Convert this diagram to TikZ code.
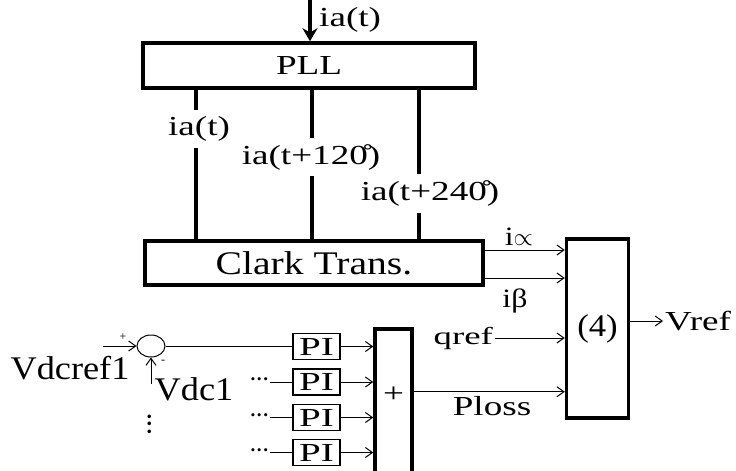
\documentclass[tikz,border=0pt]{standalone}
\usepackage{fontspec}
\setmainfont{Liberation Serif}
\newfontfamily\serifA{Liberation Serif}[FakeStretch=1.1]
\newfontfamily\serifM{Liberation Serif}[FakeStretch=1.2]
\newfontfamily\serifB{Liberation Serif}[FakeStretch=1.35]
\newfontfamily\serifC{Liberation Serif}[FakeStretch=1.5]
\usetikzlibrary{positioning,arrows.meta,shapes.geometric}
\tikzset{
  heavy box/.style={draw=black, line width=3.5pt, inner sep=0pt},
  pi box/.style={draw=black, line width=1.8pt, inner sep=0pt, minimum width=47pt, minimum height=26pt, font=\serifC\fontsize{26}{28}\selectfont},
  sum ring/.style={draw=black, ellipse, line width=1pt, inner sep=0pt, minimum width=28pt, minimum height=22pt},
  phase line/.style={line width=4pt},
  thin line/.style={line width=1pt},
  sig arrow/.style={-{Straight Barb[length=7pt,width=10pt]}, line width=1pt},
  feed arrow/.style={-{Stealth[length=13pt,width=15pt]}, line width=3.5pt},
  big font/.style={font=\serifA\fontsize{33}{35}\selectfont},
  wide font/.style={font=\serifB\fontsize{27.5}{30}\selectfont},
  lbl/.style={wide font, inner sep=2pt},
  phase lbl/.style={wide font, inner sep=6pt},
  small lbl/.style={font=\serifM\fontsize{26.5}{28}\selectfont, inner sep=0pt},
  sign lbl/.style={font=\fontsize{12}{13}\selectfont, inner sep=0pt},
  dots lbl/.style={font=\bfseries\fontsize{19}{21}\selectfont, inner sep=1pt}
}
\begin{document}
\begin{tikzpicture}[x=1pt, y=-1pt]
\useasboundingbox (0,0) rectangle (736,471);
% top blocks
\node[heavy box, wide font, minimum width=332pt, minimum height=45pt] (pll) at (309,65.5) {PLL};
\node[heavy box, font=\serifM\fontsize{33}{35}\selectfont, minimum width=338pt, minimum height=44pt] (clark) at (314,263) {Clark Trans.};
\node[lbl, anchor=west] (iatop) at (317,20) {ia(t)};
\coordinate (fin) at (310,0);
\draw[feed arrow] (fin) -- (fin |- pll.north);
% three phases
\node[phase lbl] (ph1) at (199,129) {ia(t)};
\node[phase lbl] (ph2) at (311,157) {ia(t+12\r{0})};
\node[phase lbl] (ph3) at (430,193.5) {ia(t+24\r{0})};
\coordinate (c1) at ([xshift=-113pt]pll.south);
\coordinate (c2) at ([xshift=3pt]pll.south);
\coordinate (c3) at ([xshift=110pt]pll.south);
\draw[phase line] (c1) -- (c1 |- ph1.north) (c1 |- ph1.south) -- (c1 |- clark.north);
\draw[phase line] (c2) -- (c2 |- ph2.north) (c2 |- ph2.south) -- (c2 |- clark.north);
\draw[phase line] (c3) -- (c3 |- ph3.north) (c3 |- ph3.south) -- (c3 |- clark.north);
% equation block
\node[heavy box, font=\serifA\fontsize{31.5}{33}\selectfont, minimum width=62pt, minimum height=179pt] (eq4) at (597.5,328.5) {(4)};
\coordinate (ial) at ([yshift=13pt]clark.east);
\coordinate (ibe) at ([yshift=-15pt]clark.east);
\draw[sig arrow] (ial) -- (ial -| eq4.west);
\draw[sig arrow] (ibe) -- (ibe -| eq4.west);
\node[small lbl] (lal) at (519,237) {i$\propto$};
\node[small lbl] (lbe) at (515,301) {iβ};
\node[lbl, anchor=west] (vout) at (663,321) {Vref};
\draw[sig arrow] (eq4.east |- vout) -- (vout.west);
\node[lbl, font=\serifC\fontsize{24.5}{27}\selectfont, anchor=east] (qref) at (495,338) {qref};
\draw[sig arrow] (qref.east) -- (qref.east -| eq4.west);
% dc voltage loops
\node[heavy box, wide font, minimum width=37pt, minimum height=150pt, anchor=north, text height=10pt, text depth=12pt] (sum) at (393.5,327) {+};
\coordinate (pl) at ([yshift=12pt]sum.east);
\draw[sig arrow] (pl) -- (pl -| eq4.west);
\node[lbl] (ploss) at (492,406) {Ploss};
\node[pi box] (pi1) at (316.5,346.5) {PI};
\node[pi box] (pi2) at (316.5,382) {PI};
\node[pi box] (pi3) at (316.5,417.5) {PI};
\node[pi box] (pi4) at (316.5,452.5) {PI};
\foreach \k in {1,...,4}
  \draw[sig arrow] (pi\k.east) -- (pi\k.east -| sum.west);
\foreach \k in {2,3,4}{
  \node[dots lbl, anchor=east] (d\k) at ([xshift=-22pt]pi\k.west) {···};
  \draw[thin line] (d\k.east) -- (pi\k.west);
}
\node[sum ring] (cmp) at (151,346) {};
\draw[thin line] (cmp.east) -- (cmp.east -| pi1.west);
\coordinate (vin1) at (103,346);
\draw[sig arrow] (vin1) -- (cmp.west);
\node[sign lbl] (plus) at (123,337) {+};
\node[big font, inner sep=0pt] (vref1) at (70,368) {Vdcref1};
\coordinate (vin2) at (151,384);
\draw[sig arrow] (vin2) -- (cmp.south);
\node[sign lbl] (minus) at (163,362) {-};
\node[big font, inner sep=0pt] (vdc1) at (194,389) {Vdc1};
\node[dots lbl, rotate=90, font=\bfseries\fontsize{22}{24}\selectfont] (vd) at (152,424) {···};
\end{tikzpicture}
\end{document}
